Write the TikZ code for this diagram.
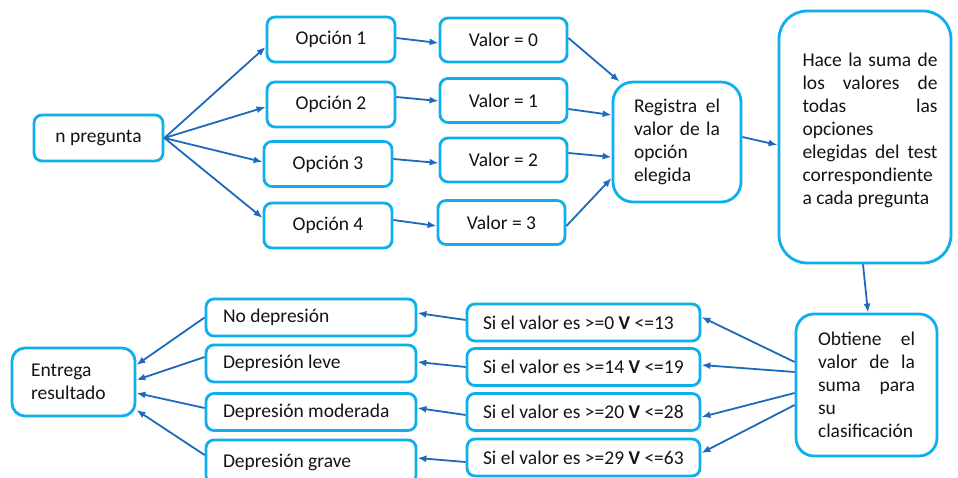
\documentclass[tikz,border=0pt]{standalone}
\usepackage{fontspec}
\setmainfont{Carlito}
\usetikzlibrary{arrows.meta}
\definecolor{boxc}{HTML}{0FAEEC}
\definecolor{arrc}{HTML}{1E69BD}
\definecolor{txt}{HTML}{141414}
% a line of text stretched to the full given width
\newcommand\fullline[2]{{\spaceskip=0.226em plus 1fill\relax\makebox[#1][s]{#2}}}
\begin{document}
\begin{tikzpicture}[x=1pt,y=-1pt,
  box/.style={draw=boxc, line width=2.8pt, rounded corners=8pt, fill=white,
    inner sep=0pt, align=flush center, text=txt, font=\fontsize{19.5}{23}\selectfont},
  txtblock/.style={inner sep=0pt, align=flush left, text=txt, font=\fontsize{19.5}{23}\selectfont},
  arr/.style={draw=arrc, line width=1.8pt, -{Latex[length=9pt,width=7pt]}},
  opt/.style={box, minimum width=128pt, minimum height=45pt},
  val/.style={box, minimum width=127pt, minimum height=44pt},
  cond/.style={box, minimum width=233pt, minimum height=37pt, text width=201pt, align=flush left},
  res/.style={box, minimum width=210pt, minimum height=37pt, text width=176pt, align=flush left},
]
\useasboundingbox[fill=white] (0,0) rectangle (958,478);

% first row: question, options, values
\node[box, minimum width=129pt, minimum height=46pt] (q) at (98.5,138) {n pregunta};
\node[opt] (o1) at (331,39.5) {Opción 1};
\node[opt] (o2) at (331,104.5) {Opción 2};
\node[opt] (o3) at (328,164) {Opción 3};
\node[opt] (o4) at (328,225.5) {Opción 4};
\node[val] (v0) at (503.5,40) {Valor = 0};
\node[val] (v1) at (503.5,100.5) {Valor = 1};
\node[val] (v2) at (503.5,160) {Valor = 2};
\node[val] (v3) at (501.5,222.5) {Valor = 3};
\node[box, minimum width=128pt, minimum height=120pt, rounded corners=20pt,
      text width=86pt, align=flush left] (reg) at (677,142)
  {\fullline{86pt}{Registra el}\\\fullline{86pt}{valor de la}\\opción\\elegida};
\node[box, minimum width=172pt, minimum height=252pt, rounded corners=28pt] (sum) at (865,137) {};
\node[txtblock, text width=135pt] (sumtext) at ([shift={(5pt,7pt)}]sum.center)
  {\fullline{135pt}{Hace la suma de}\\\fullline{135pt}{los valores de}\\
   \fullline{135pt}{todas las}\\opciones\\\fullline{135pt}{elegidas del test}\\
   correspondiente\\a cada pregunta};

% second row: classification and results
\node[box, minimum width=141pt, minimum height=142pt, rounded corners=18pt,
      text width=97pt, align=flush left] (obt) at (866.5,385)
  {\fullline{97pt}{Obtiene el}\\\fullline{97pt}{valor de la}\\\fullline{97pt}{suma para}\\su\\clasificación};
\node[cond] (s0) at (583.5,322.5) {Si el valor es >=0 \textbf{V} <=13};
\node[cond] (s1) at (583.5,367) {Si el valor es >=14 \textbf{V} <=19};
\node[cond] (s2) at (583.5,412) {Si el valor es >=20 \textbf{V} <=28};
\node[cond] (s3) at (583.5,457.5) {Si el valor es >=29 \textbf{V} <=63};
\node[res] (d0) at (311,317.5) {No depresión};
\node[res] (d1) at (311,363.5) {Depresión leve};
\node[res] (d2) at (311,412) {Depresión moderada};
\node[res, minimum height=44pt] (d3) at (311,462) {Depresión grave};
\node[box, minimum width=123pt, minimum height=68pt, rounded corners=13pt,
      text width=85pt, align=flush left] (ent) at (73.5,382) {Entrega\\resultado};

% connectors of the first row
\draw[arr] (q.east) -- ([yshift=-7.5pt]o1.west);
\draw[arr] (q.east) -- ([yshift=-2.5pt]o2.west);
\draw[arr] (q.east) -- ([yshift=2pt]o3.west);
\draw[arr] (q.east) -- ([yshift=7.5pt]o4.west);
\draw[arr] ([yshift=1.5pt]o1.east) -- ([yshift=-3pt]v0.west);
\draw[arr] ([yshift=7.5pt]o2.east) -- ([yshift=-0.5pt]v1.west);
\draw[arr] ([yshift=5pt]o3.east) -- ([yshift=-3pt]v2.west);
\draw[arr] ([yshift=5.5pt]o4.east) -- ([yshift=-3.5pt]v3.west);
\draw[arr] ([yshift=2pt]v0.east) -- ([shift={(8pt,-1pt)}]reg.north west);
\draw[arr] ([yshift=-8.5pt]v1.east) -- ([yshift=27pt]reg.west);
\draw[arr] ([yshift=7pt]v2.east) -- ([yshift=-15pt]reg.west);
\draw[arr] ([yshift=-3.5pt]v3.east) -- ([yshift=-36pt]reg.west);
\draw[arr] ([yshift=5pt]reg.east) -- ([yshift=-8pt]sum.west);
\draw[arr] ([xshift=-2pt]sum.south) -- ([xshift=1.5pt]obt.north);

% connectors of the second row
\draw[arr] ([yshift=23pt]obt.west) -- ([yshift=5.5pt]s0.east);
\draw[arr] ([yshift=13pt]obt.west) -- ([yshift=2pt]s1.east);
\draw[arr] ([yshift=-8pt]obt.west) -- ([yshift=-5pt]s2.east);
\draw[arr] ([yshift=-20pt]obt.west) -- ([yshift=4.5pt]s3.east);
\draw[arr] ([yshift=2.5pt]s0.west) -- ([yshift=4.5pt]d0.east);
\draw[arr] (s1.west) -- ([yshift=1.5pt]d1.east);
\draw[arr] ([yshift=-3pt]s2.west) -- ([yshift=4pt]d2.east);
\draw[arr] ([yshift=-4.5pt]s3.west) -- ([yshift=4pt]d3.east);
\draw[arr] (d0.west) -- ([yshift=17pt]ent.east);
\draw[arr] ([yshift=6.5pt]d1.west) -- ([yshift=2pt]ent.east);
\draw[arr] ([yshift=4pt]d2.west) -- ([yshift=-11pt]ent.east);
\draw[arr] ([yshift=7pt]d3.west) -- ([yshift=-28pt]ent.east);
\end{tikzpicture}
\end{document}
